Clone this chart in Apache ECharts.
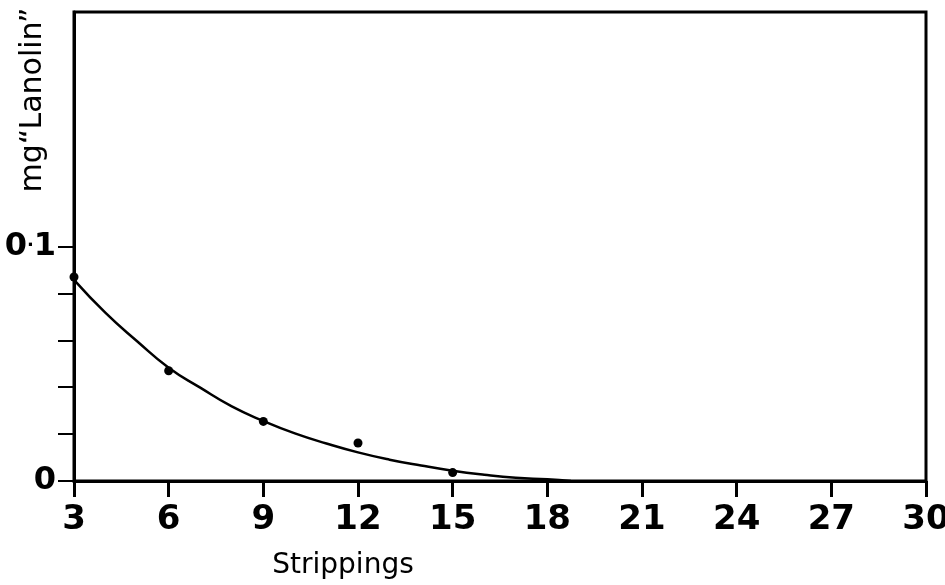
<!DOCTYPE html>
<html>
<head>
<meta charset="utf-8">
<script src="https://cdn.jsdelivr.net/npm/echarts@6/dist/echarts.min.js"></script>
<style>
  html, body { margin: 0; padding: 0; background: #fff; }
  #chart { width: 945px; height: 585px; }
</style>
</head>
<body>
<div id="chart"></div>
<script>
// measured points (strippings vs mg lanolin)
const pointX = [3, 6, 9, 12, 15]
const pointY = [0.087, 0.047, 0.0254, 0.0162, 0.0036]

// fitted curve
const curveX = [3, 4, 5, 6, 7, 8, 9, 10, 11, 12, 13, 14, 15, 16, 17, 18, 18.75]
const curveY = [0.0858, 0.0717, 0.0596, 0.0483, 0.0398, 0.0318, 0.0256, 0.0203, 0.016, 0.0122, 0.0091, 0.0066, 0.0044, 0.0027, 0.0014, 0.0007, 0]

// axis ticks
const yTicks = [0, 0.02, 0.04, 0.06, 0.08, 0.1]
const yLabels = [0, 0.1]
const yLabelText = ['0', '0{dot|·}1']

const chart = echarts.init(document.getElementById('chart'))

const option = {
  backgroundColor: '#fff',
  animation: false,
  grid: {
    left: 74,
    right: 19,
    top: 12,
    bottom: 104,
    outerBoundsMode: 'none',
    containLabel: false,
    show: true,
    borderColor: '#000',
    borderWidth: 3,
  },
  xAxis: {
    type: 'value',
    min: 3,
    max: 30,
    interval: 3,
    axisLine: { lineStyle: { color: '#000', width: 3 } },
    axisTick: { show: true, length: 16, lineStyle: { color: '#000', width: 3 } },
    axisLabel: {
      margin: 22,
      color: '#000',
      fontFamily: 'DejaVu Sans',
      fontWeight: 'bold',
      fontSize: 34,
    },
    splitLine: { show: false },
  },
  yAxis: {
    type: 'value',
    min: 0,
    max: 0.2,
    axisLine: { show: true, lineStyle: { color: '#000', width: 3 } },
    axisTick: {
      show: true,
      length: 16,
      customValues: yTicks,
      lineStyle: { color: '#000', width: 2 },
    },
    axisLabel: {
      margin: 18,
      color: '#000',
      fontFamily: 'DejaVu Sans',
      fontWeight: 'bold',
      fontSize: 32,
      customValues: yLabels,
      formatter: (v) => yLabelText[yLabels.indexOf(v)] ?? '',
      rich: {
        dot: {
          fontFamily: 'DejaVu Sans',
          fontWeight: 'bold',
          fontSize: 18,
          verticalAlign: 'middle',
          color: '#000',
        },
      },
    },
    splitLine: { show: false },
  },
  graphic: [
    {
      type: 'text',
      x: 33,
      y: 100,
      rotation: Math.PI / 2,
      style: {
        text: 'mg“Lanolin”',
        fill: '#000',
        font: '30px "DejaVu Sans"',
        align: 'center',
        verticalAlign: 'middle',
      },
    },
    {
      type: 'text',
      x: 343,
      y: 566,
      style: {
        text: 'Strippings',
        fill: '#000',
        font: '28px "DejaVu Sans"',
        align: 'center',
        verticalAlign: 'middle',
      },
    },
  ],
  series: [
    {
      name: 'curve',
      type: 'line',
      data: curveX.map((x, i) => [x, curveY[i]]),
      smooth: true,
      showSymbol: false,
      symbol: 'none',
      lineStyle: { color: '#000', width: 2.5 },
      z: 2,
    },
    {
      name: 'points',
      type: 'scatter',
      data: pointX.map((x, i) => [x, pointY[i]]),
      symbol: 'circle',
      symbolSize: 9,
      itemStyle: { color: '#000', opacity: 1 },
      z: 3,
    },
  ],
}

chart.setOption(option)
</script>
</body>
</html>
